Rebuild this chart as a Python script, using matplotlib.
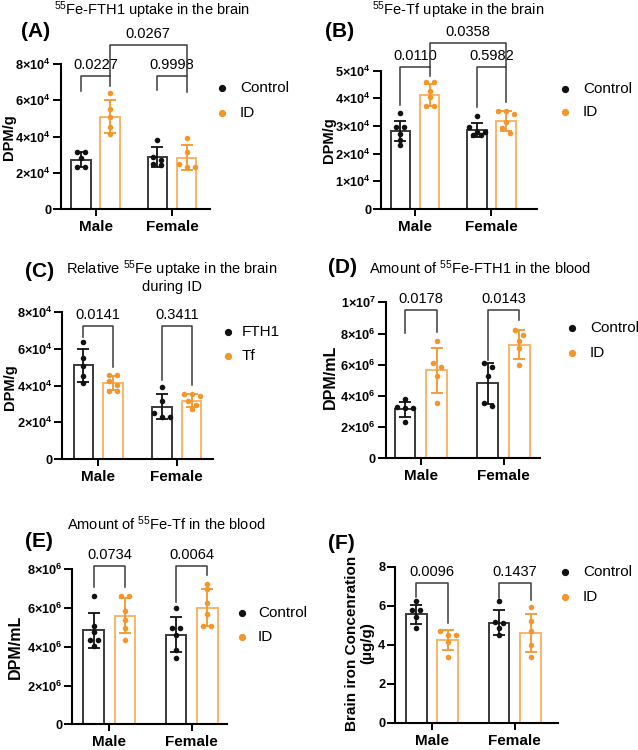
import numpy as np
import matplotlib
matplotlib.use("Agg")
import matplotlib.pyplot as plt
from matplotlib.lines import Line2D

plt.rcParams['font.family'] = ['Liberation Sans', 'DejaVu Sans']
plt.rcParams['mathtext.fontset'] = 'custom'
plt.rcParams['mathtext.rm'] = 'Liberation Sans'
plt.rcParams['mathtext.bf'] = 'Liberation Sans:bold'
plt.rcParams['mathtext.it'] = 'Liberation Sans:italic'

W, H = 638, 750

groups = ['Male', 'Female']

# (A) 55Fe-FTH1 uptake in the brain, DPM/g (x10^4)
fth1_brain_ctrl = [[3.12, 3.12, 2.84, 2.30, 2.30], [3.80, 2.89, 2.71, 2.50, 2.43]]
fth1_brain_ctrl_mean = [2.73, 2.86]
fth1_brain_ctrl_sd = [0.41, 0.55]
fth1_brain_id = [[6.40, 5.53, 5.07, 4.52, 4.13], [3.90, 3.17, 2.51, 2.29, 2.29]]
fth1_brain_id_mean = [5.10, 2.84]
fth1_brain_id_sd = [0.92, 0.68]

# (B) 55Fe-Tf uptake in the brain, DPM/g (x10^4)
tf_brain_ctrl = [[3.48, 2.95, 2.95, 2.72, 2.50, 2.30], [3.36, 2.98, 2.80, 2.80, 2.66, 2.66]]
tf_brain_ctrl_mean = [2.82, 2.87]
tf_brain_ctrl_sd = [0.36, 0.25]
tf_brain_id = [[4.58, 4.58, 4.28, 4.04, 3.73, 3.73], [3.56, 3.54, 3.44, 3.16, 2.93, 2.75]]
tf_brain_id_mean = [4.13, 3.18]
tf_brain_id_sd = [0.39, 0.35]

# (D) 55Fe-FTH1 in the blood, DPM/mL (x10^6)
fth1_blood_ctrl = [[3.80, 3.30, 3.25, 3.20, 2.35], [6.08, 5.85, 5.30, 3.55, 3.38]]
fth1_blood_ctrl_mean = [3.14, 4.81]
fth1_blood_ctrl_sd = [0.49, 1.30]
fth1_blood_id = [[7.55, 6.10, 5.88, 5.30, 3.53], [8.20, 7.90, 7.50, 7.10, 5.95]]
fth1_blood_id_mean = [5.63, 7.27]
fth1_blood_id_sd = [1.45, 0.93]

# (E) 55Fe-Tf in the blood, DPM/mL (x10^6)
tf_blood_ctrl = [[6.62, 5.09, 4.78, 4.35, 4.35, 4.06], [6.02, 4.95, 4.95, 4.61, 3.84, 3.41]]
tf_blood_ctrl_mean = [4.85, 4.63]
tf_blood_ctrl_sd = [0.91, 0.92]
tf_blood_id = [[6.64, 6.64, 5.85, 5.38, 4.95, 4.35], [7.24, 6.98, 6.25, 5.69, 5.08, 5.08]]
tf_blood_id_mean = [5.61, 6.02]
tf_blood_id_sd = [0.89, 0.95]

# (F) brain iron concentration, ug/g
iron_ctrl = [[6.25, 5.80, 5.78, 5.40, 4.84], [6.22, 5.15, 5.12, 4.85, 4.48]]
iron_ctrl_mean = [5.56, 5.13]
iron_ctrl_sd = [0.49, 0.65]
iron_id = [[4.72, 4.50, 4.50, 4.15, 3.35], [5.91, 5.21, 4.70, 3.98, 3.38]]
iron_id_mean = [4.24, 4.58]
iron_id_sd = [0.52, 0.97]

ticks_e4_8 = ['0', r'$\mathbf{2{\times}10^{4}}$', r'$\mathbf{4{\times}10^{4}}$',
              r'$\mathbf{6{\times}10^{4}}$', r'$\mathbf{8{\times}10^{4}}$']
ticks_e4_5 = ['0', r'$\mathbf{1{\times}10^{4}}$', r'$\mathbf{2{\times}10^{4}}$', r'$\mathbf{3{\times}10^{4}}$',
              r'$\mathbf{4{\times}10^{4}}$', r'$\mathbf{5{\times}10^{4}}$']
ticks_e6_10 = ['0', r'$\mathbf{2{\times}10^{6}}$', r'$\mathbf{4{\times}10^{6}}$', r'$\mathbf{6{\times}10^{6}}$',
               r'$\mathbf{8{\times}10^{6}}$', r'$\mathbf{1{\times}10^{7}}$']
ticks_e6_8 = ['0', r'$\mathbf{2{\times}10^{6}}$', r'$\mathbf{4{\times}10^{6}}$',
              r'$\mathbf{6{\times}10^{6}}$', r'$\mathbf{8{\times}10^{6}}$']
ticks_iron = ['0', '2', '4', '6', '8']

BLACK = '#111111'
GREY_EDGE = '#3a3a3a'
ORANGE = '#f5962a'
ORANGE_EDGE = '#f9b468'
BRACKET = '#3c3c3c'

fig = plt.figure(figsize=(W / 100, H / 100), dpi=100)


def fx(x):
    return x / W


def fy(y):
    return 1 - y / H


def swarm(vals, y_per_px, x_per_px, dot_px=5.0, step_px=8.0):
    vals = np.asarray(vals)
    order = np.argsort(-vals, kind='stable')
    rows = []
    for i in order:
        if rows and abs(vals[rows[-1][0]] - vals[i]) / y_per_px < dot_px:
            rows[-1].append(i)
        else:
            rows.append([i])
    offs = np.zeros(len(vals))
    for r in rows:
        n = len(r)
        for k, i in enumerate(r):
            offs[i] = (k - (n - 1) / 2) * step_px * x_per_px
    return offs


def panel(spine_x, bottom_y, top_y, end_x, male_x, female_x, ymax, yticklabels, series):
    unit = female_x - male_x
    ax = fig.add_axes([fx(spine_x), fy(bottom_y), (end_x - spine_x) / W, (bottom_y - top_y) / H])
    ax.set_xlim((spine_x - male_x) / unit, (end_x - male_x) / unit)
    ax.set_ylim(0, ymax)
    ax.patch.set_alpha(0)
    for s in ['top', 'right']:
        ax.spines[s].set_visible(False)
    for s in ['left', 'bottom']:
        ax.spines[s].set_linewidth(1.5)
        ax.spines[s].set_color('black')
    nt = len(yticklabels)
    ax.set_yticks(np.linspace(0, ymax, nt))
    ax.set_yticklabels(yticklabels, fontweight='bold', fontsize=9.2)
    ax.set_xticks([0, 1])
    ax.set_xticklabels(groups, fontweight='bold', fontsize=11)
    ax.tick_params(axis='y', direction='out', length=5.5, width=1.4, pad=1.5)
    ax.tick_params(axis='x', direction='out', length=5, width=1.4, pad=3)

    y_per_px = ymax / (bottom_y - top_y)
    x_per_px = 1 / unit
    for pts, means, sds, pc, ec, off in series:
        xs = np.arange(2) + off
        ax.bar(xs, means, width=0.25, facecolor='white', edgecolor=ec, linewidth=1.4, zorder=2)
        ax.errorbar(xs, means, yerr=sds, fmt='none', ecolor=pc, elinewidth=1.3,
                    capsize=4, capthick=1.3, zorder=3, clip_on=False)
        for g in range(2):
            o = swarm(pts[g], y_per_px, x_per_px)
            ax.scatter(xs[g] + o, pts[g], s=16, color=pc, linewidths=0, zorder=4, clip_on=False)
    return ax


def bracket(ax, x1, x2, y, b1, b2, text):
    ax.plot([x1, x1, x2, x2], [b1, y, y, b2], color=BRACKET, lw=1.1, clip_on=False, zorder=5)
    ax.annotate(text, ((x1 + x2) / 2, y), xytext=(0, 5), textcoords='offset points',
                ha='center', va='baseline', fontsize=10.5, annotation_clip=False)


def legend(dot_x, text_x, y1, y2, labels):
    for (lab, col), y in zip(labels, [y1, y2]):
        fig.add_artist(Line2D([fx(dot_x)], [fy(y)], marker='o', ms=4.2, color=col,
                              mec=col, transform=fig.transFigure))
        fig.text(fx(text_x), fy(y), lab, fontsize=11, ha='left', va='center')


def titles(label, lx, ly, title, tx, ty, ylab, yx, yy, yfs=10):
    fig.text(fx(lx), fy(ly), label, fontsize=15, fontweight='bold', ha='left', va='center')
    if title:
        fig.text(fx(tx), fy(ty), title, fontsize=10.5, ha='center', va='center',
                 multialignment='center', linespacing=1.0)
    fig.text(fx(yx), fy(yy), ylab, fontsize=yfs, fontweight='bold', rotation=90,
             ha='center', va='center', multialignment='center', linespacing=1.1)


cg = ('Control', BLACK)
ig = ('ID', ORANGE)
OFF = 0.19

# (A)
ax = panel(61, 209, 64, 210, 95.5, 172, 8,
           ticks_e4_8,
           [(fth1_brain_ctrl, fth1_brain_ctrl_mean, fth1_brain_ctrl_sd, BLACK, GREY_EDGE, -OFF),
            (fth1_brain_id, fth1_brain_id_mean, fth1_brain_id_sd, ORANGE, ORANGE_EDGE, OFF)])
bracket(ax, -OFF, OFF, 7.32, 6.49, 6.77, '0.0227')
bracket(ax, 1 - OFF, 1 + OFF, 7.32, 6.54, 6.45, '0.9998')
bracket(ax, OFF, 1 + OFF, 9.07, 7.32, 7.32, '0.0267')
legend(221.7, 240, 88.3, 113.3, [cg, ig])
titles('(A)', 21, 31.7, r'$\mathregular{^{55}}$Fe-FTH1 uptake in the brain', 151.7, 10.5,
       'DPM/g', 9, 137, 10.5)

# (B)
ax = panel(381, 209, 70.7, 537, 415, 491.5, 5,
           ticks_e4_5,
           [(tf_brain_ctrl, tf_brain_ctrl_mean, tf_brain_ctrl_sd, BLACK, GREY_EDGE, -OFF),
            (tf_brain_id, tf_brain_id_mean, tf_brain_id_sd, ORANGE, ORANGE_EDGE, OFF)])
bracket(ax, -OFF, OFF, 5.12, 3.76, 4.82, '0.0110')
bracket(ax, 1 - OFF, 1 + OFF, 5.12, 3.70, 3.88, '0.5982')
bracket(ax, OFF, 1 + OFF, 5.99, 5.12, 5.12, '0.0358')
legend(565, 583, 89.3, 112.3, [cg, ig])
titles('(B)', 325, 31.7, r'$\mathregular{^{55}}$Fe-Tf uptake in the brain', 458, 10.5,
       'DPM/g', 329, 140, 10.5)

# (C)
ax = panel(62.3, 459, 312.3, 213, 98.3, 176.7, 8,
           ticks_e4_8,
           [(fth1_brain_id, fth1_brain_id_mean, fth1_brain_id_sd, BLACK, GREY_EDGE, -OFF),
            (tf_brain_id, tf_brain_id_mean, tf_brain_id_sd, ORANGE, ORANGE_EDGE, OFF)])
bracket(ax, -OFF, OFF, 7.27, 6.67, 5.04, '0.0141')
bracket(ax, 1 - OFF, 1 + OFF, 7.27, 4.31, 4.04, '0.3411')
legend(227.7, 242, 331.7, 355.7, [('FTH1', BLACK), ('Tf', ORANGE)])
titles('(C)', 25, 271.7, 'Relative $\\mathregular{^{55}}$Fe uptake in the brain\nduring ID', 171.7, 276.3,
       'DPM/g', 10, 386.7, 10.5)

# (D)
ax = panel(385.7, 458.3, 302.3, 540, 420.8, 503.5, 10,
           ticks_e6_10,
           [(fth1_blood_ctrl, fth1_blood_ctrl_mean, fth1_blood_ctrl_sd, BLACK, GREY_EDGE, -OFF),
            (fth1_blood_id, fth1_blood_id_mean, fth1_blood_id_sd, ORANGE, ORANGE_EDGE, OFF)])
bracket(ax, -OFF, OFF, 9.48, 8.06, 8.09, '0.0178')
bracket(ax, 1 - OFF, 1 + OFF, 9.48, 6.31, 8.88, '0.0143')
legend(572, 590, 328, 353, [cg, ig])
titles('(D)', 328.3, 267.3, r'Amount of $\mathregular{^{55}}$Fe-FTH1 in the blood', 480, 267.3,
       'DPM/mL', 330, 376.7, 11.5)

# (E)
ax = panel(72, 724.3, 569.3, 227, 109.4, 191.8, 8,
           ticks_e6_8,
           [(tf_blood_ctrl, tf_blood_ctrl_mean, tf_blood_ctrl_sd, BLACK, GREY_EDGE, -OFF),
            (tf_blood_id, tf_blood_id_mean, tf_blood_id_sd, ORANGE, ORANGE_EDGE, OFF)])
bracket(ax, -OFF, OFF, 8.19, 7.10, 7.10, '0.0734')
bracket(ax, 1 - OFF, 1 + OFF, 8.19, 6.33, 7.70, '0.0064')
legend(242, 258, 613, 637, [cg, ig])
titles('(E)', 25, 541.7, r'Amount of $\mathregular{^{55}}$Fe-Tf in the blood', 166.7, 524,
       'DPM/mL', 15, 646.7, 11.5)

# (F)
ax = panel(395, 722.7, 566.7, 558, 432.1, 514.8, 8,
           ticks_iron,
           [(iron_ctrl, iron_ctrl_mean, iron_ctrl_sd, BLACK, GREY_EDGE, -OFF),
            (iron_id, iron_id_mean, iron_id_sd, ORANGE, ORANGE_EDGE, OFF)])
bracket(ax, -OFF, OFF, 7.18, 6.46, 5.09, '0.0096')
bracket(ax, 1 - OFF, 1 + OFF, 7.18, 6.38, 6.29, '0.1437')
legend(565, 583, 572, 597, [cg, ig])
titles('(F)', 328.3, 543.3, None, 0, 0,
       'Brain iron Concenration\n(µg/g)', 360, 643.3, 11)

fig.savefig('out.png', dpi=100)
